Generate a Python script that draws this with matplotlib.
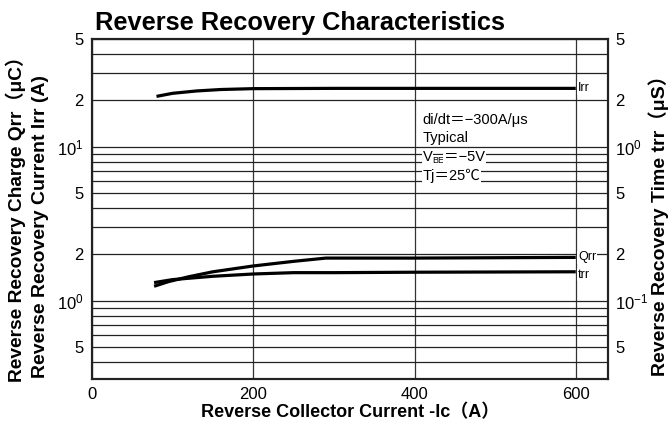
import matplotlib
matplotlib.use("Agg")
import matplotlib.pyplot as plt
from matplotlib.ticker import FixedLocator, FixedFormatter, NullFormatter, LogLocator
from matplotlib.transforms import offset_copy

plt.rcParams['font.family'] = ['Liberation Sans', 'Noto Sans CJK JP', 'DejaVu Sans']
plt.rcParams['mathtext.fontset'] = 'custom'
plt.rcParams['mathtext.rm'] = 'Liberation Sans'
plt.rcParams['mathtext.it'] = 'Liberation Sans:italic'

# Data
irr_x = [80, 100, 130, 160, 200, 300, 400, 500, 600]
irr_y = [21.2, 22.2, 23.0, 23.5, 23.8, 23.9, 23.9, 23.9, 23.9]          # A (left axis)

qrr_x = [77, 95, 120, 150, 200, 250, 290, 310, 400, 500, 600]
qrr_y = [1.24, 1.33, 1.43, 1.54, 1.68, 1.80, 1.89, 1.89, 1.89, 1.90, 1.91]  # uC (left axis)

trr_x = [77, 100, 150, 200, 250, 300, 400, 500, 600]
trr_y = [0.131, 0.137, 0.144, 0.149, 0.152, 0.152, 0.153, 0.1535, 0.154]  # us (right axis)

x_ticks = [0, 200, 400, 600]
left_ticks = [0.5, 1, 2, 5, 10, 20, 50]
left_labels = ['5', r'$10^{0}$', '2', '5', r'$10^{1}$', '2', '5']
right_ticks = [0.05, 0.1, 0.2, 0.5, 1, 2, 5]
right_labels = ['5', r'$10^{-1}$', '2', '5', r'$10^{0}$', '2', '5']

fig = plt.figure(figsize=(6.7, 4.32), dpi=100)
ax = fig.add_axes([92/670, 1-379/432, (608-92)/670, (379-39)/432])
ax.set_yscale('log')
ax.set_xlim(0, 640)
ax.set_ylim(0.31, 50)

ax.yaxis.set_major_locator(FixedLocator(left_ticks))
ax.yaxis.set_major_formatter(FixedFormatter(left_labels))
ax.yaxis.set_minor_locator(LogLocator(base=10, subs=range(2, 10)))
ax.yaxis.set_minor_formatter(NullFormatter())
ax.set_xticks(x_ticks)
ax.set_xticklabels([str(v) for v in x_ticks])

ax.grid(True, which='both', axis='y', color='#222222', lw=0.9)
ax.grid(True, which='major', axis='x', color='#333333', lw=0.9)
ax.tick_params(which='both', length=0, labelsize=12, pad=6)
for s in ax.spines.values():
    s.set_linewidth(1.5)
    s.set_color('#222222')

ax2 = ax.twinx()
ax2.set_yscale('log')
ax2.set_ylim(0.031, 5.0)
ax2.yaxis.set_major_locator(FixedLocator(right_ticks))
ax2.yaxis.set_major_formatter(FixedFormatter(right_labels))
ax2.yaxis.set_minor_formatter(NullFormatter())
ax2.tick_params(which='both', length=0, labelsize=12, pad=5)
for s in ax2.spines.values():
    s.set_linewidth(1.5)
    s.set_color('#222222')

ax.plot(irr_x, irr_y, color='black', lw=2.3, solid_capstyle='butt')
ax.plot(qrr_x, qrr_y, color='black', lw=2.3, solid_capstyle='butt')
ax2.plot(trr_x, trr_y, color='black', lw=2.3, solid_capstyle='butt')

box = dict(facecolor='white', edgecolor='none', pad=0.6)
ax.text(603, irr_y[-1], 'Irr', fontsize=9, va='center', ha='left', bbox=box)
ax.text(603, qrr_y[-1], 'Qrr', fontsize=9, va='center', ha='left', bbox=box)
ax2.text(603, trr_y[-1] * 0.96, 'trr', fontsize=9, va='center', ha='left', bbox=box)

# Condition notes
cx = 410
fs = 10.5
ax.text(cx, 14.9, "di/dt\uff1d\u2212300A/\u03bcs", fontsize=fs, va='center', ha='left', bbox=box)
ax.text(cx, 11.4, "Typical", fontsize=fs, va='center', ha='left', bbox=box)
ax.text(cx, 6.44, "Tj\uff1d25\u2103", fontsize=fs, va='center', ha='left', bbox=box)
# V_BE line built from pieces (subscript)
renderer = fig.canvas.get_renderer()
t1 = ax.text(cx, 8.57, "V", fontsize=fs, va='center', ha='left', bbox=box, zorder=4)
w1 = t1.get_window_extent(renderer).width
tr2 = offset_copy(ax.transData, fig=fig, x=w1 * 72 / fig.dpi, y=-2.5, units='points')
t2 = ax.text(cx, 8.57, "BE", fontsize=fs * 0.62, va='center', ha='left', transform=tr2,
             bbox=dict(facecolor='white', edgecolor='none', pad=0.3), zorder=3)
w2 = t2.get_window_extent(renderer).width
tr3 = offset_copy(ax.transData, fig=fig, x=(w1 + w2) * 72 / fig.dpi, y=0, units='points')
ax.text(cx, 8.57, "\uff1d\u22125V", fontsize=fs, va='center', ha='left', transform=tr3, bbox=box)

fig.text(95/670, 1-30/432, 'Reverse Recovery Characteristics', fontsize=18.3, fontweight='bold',
         va='baseline', ha='left')
fig.text(350/670, 1-413/432, 'Reverse Collector Current -Ic\uff08A\uff09', fontsize=13,
         fontweight='bold', va='center', ha='center')
fig.text(16/670, 1-214/432, 'Reverse Recovery Charge Qrr\uff08\u03bcC\uff09', fontsize=13.8,
         fontweight='bold', rotation=90, va='center', ha='center')
fig.text(41/670, 1-226/432, 'Reverse Recovery Current Irr (A)', fontsize=14,
         fontweight='bold', rotation=90, va='center', ha='center')
fig.text(659/670, 1-221/432, 'Reverse Recovery Time trr\uff08\u03bcS\uff09', fontsize=14,
         fontweight='bold', rotation=90, va='center', ha='center')

fig.savefig('out.png', dpi=100)
